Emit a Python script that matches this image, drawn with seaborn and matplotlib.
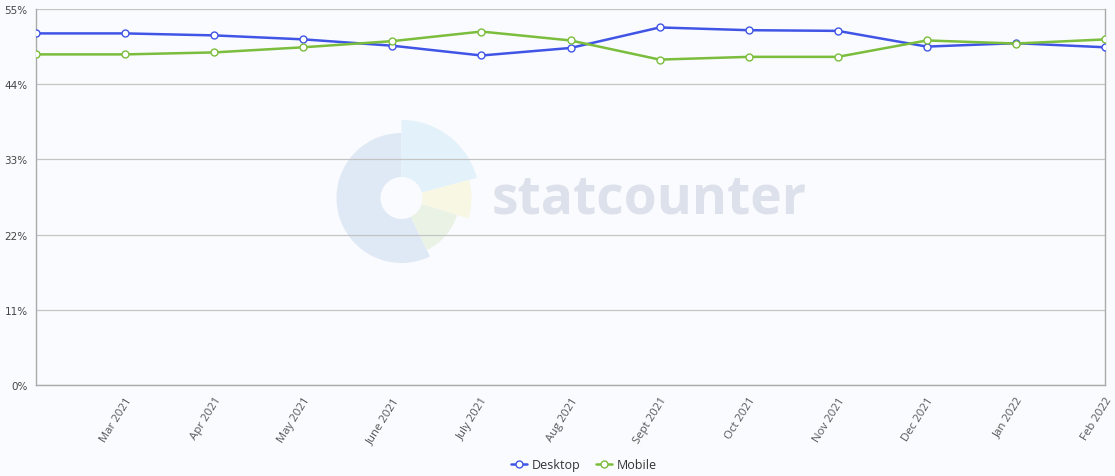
import matplotlib
matplotlib.use("Agg")
import matplotlib.pyplot as plt
from matplotlib.patches import Wedge, Circle
from matplotlib.lines import Line2D
import seaborn as sns
import pandas as pd

months = ["Feb 2021", "Mar 2021", "Apr 2021", "May 2021", "June 2021", "July 2021",
          "Aug 2021", "Sept 2021", "Oct 2021", "Nov 2021", "Dec 2021", "Jan 2022", "Feb 2022"]
desktop = [51.43, 51.43, 51.14, 50.56, 49.63, 48.2, 49.3, 52.3, 51.9, 51.8, 49.5, 50.0, 49.4]
mobile = [48.36, 48.36, 48.65, 49.4, 50.3, 51.7, 50.4, 47.6, 48.0, 48.0, 50.4, 49.95, 50.55]
series_names = ["Desktop", "Mobile"]
series_colors = ["#4055e6", "#7bbd3c"]
y_ticks = [0, 11, 22, 33, 44, 55]

df = pd.DataFrame({
    "idx": list(range(len(months))) * 2,
    "value": desktop + mobile,
    "series": [series_names[0]] * len(months) + [series_names[1]] * len(months),
})

sns.set_theme(style="white")
plt.rcParams["font.family"] = ["Open Sans", "DejaVu Sans"]

W, H = 1115, 477
fig = plt.figure(figsize=(W / 100, H / 100), dpi=100, facecolor="#fafbfe")

# watermark layer (pixel coordinates)
bg = fig.add_axes([0, 0, 1, 1], zorder=0)
bg.set_xlim(0, W)
bg.set_ylim(H, 0)
bg.axis("off")
bg.set_facecolor("none")
cx, cy = 401.5, 199
def wedge(r, a1, a2, color):
    bg.add_patch(Wedge((cx, cy), r, -a2, -a1, facecolor=color, edgecolor="none"))
wedge(65, 90, 296, "#dfe9f5")
wedge(78, 15, 90, "#e3f2fa")
wedge(70, -17, 15, "#f7f7e4")
wedge(58, -64, -17, "#eaf2e5")
bg.add_patch(Circle((cx, cy), 21, facecolor="#fafbfe", edgecolor="none"))
bg.text(492, 214, "statcounter", fontsize=38.5, fontweight="bold", color="#dde1eb",
        family=["Open Sans", "DejaVu Sans"], va="baseline", ha="left")

ax = fig.add_axes([36 / W, 1 - 386 / H, (1105 - 36) / W, (386 - 10) / H], zorder=1)
ax.set_facecolor("none")

sns.lineplot(data=df, x="idx", y="value", hue="series", palette=series_colors,
             marker="o", markersize=5, markerfacecolor="white", markeredgewidth=1.0,
             linewidth=1.8, ax=ax, legend=False, zorder=3)
for line, c in zip(ax.lines, series_colors):
    line.set_markeredgecolor(c)

ax.set_xlim(0, len(months) - 1)
ax.set_ylim(0, 55)
ax.set_yticks(y_ticks)
ax.set_yticklabels([f"{v}%" for v in y_ticks], family=["DejaVu Sans"], fontsize=7.5, color="#444444")
ax.yaxis.grid(True, color="#c4c4c4", linewidth=0.9)
ax.set_axisbelow(True)
ax.set_xticks(range(1, len(months)))
ax.set_xticklabels(months[1:], rotation=58, ha="right", va="top", rotation_mode="anchor",
                   fontsize=8.2, color="#555555")
ax.tick_params(axis="both", length=0, pad=6)
ax.tick_params(axis="x", pad=7)
ax.set_xlabel("")
ax.set_ylabel("")
for s in ax.spines.values():
    s.set_visible(True)
    s.set_color("#aaaaaa")
    s.set_linewidth(1.0)
ax.spines["top"].set_visible(False)

handles = [Line2D([0], [0], color=c, marker="o", markerfacecolor="white", markeredgecolor=c,
                  markersize=5, linewidth=1.8, markeredgewidth=1.0) for c in series_colors]
fig.legend(handles, series_names, loc="center", bbox_to_anchor=(584 / W, 1 - 466 / H),
           ncol=2, frameon=False, fontsize=9, handlelength=1.3, handletextpad=0.4,
           columnspacing=1.2, labelcolor="#333333")

fig.savefig("out.png", dpi=100, facecolor=fig.get_facecolor())
